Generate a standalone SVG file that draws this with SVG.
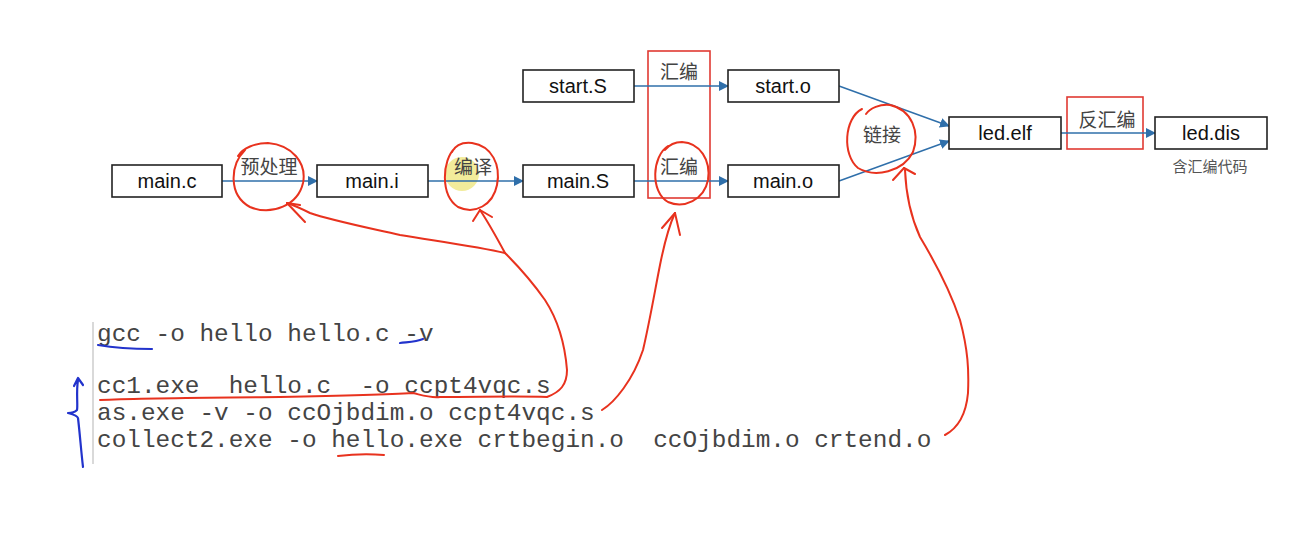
<svg xmlns="http://www.w3.org/2000/svg" width="1306" height="556" viewBox="0 0 1306 556">
<style>
.box rect{fill:#fff;stroke:#222;stroke-width:1.6}
.box text{font-family:"Liberation Sans",Arial,sans-serif;font-size:20px;fill:#111;text-anchor:middle}
.lbl{font-family:"Liberation Sans","Noto Sans CJK SC",sans-serif;font-size:19px;fill:#444;text-anchor:middle}
.conn line{stroke:#2F6FAA;stroke-width:1.6;marker-end:url(#ah)}
.code{font-family:"Liberation Mono","Courier New",monospace;font-size:24.4px;fill:#444;white-space:pre}
.red{fill:none;stroke:#E8321E;stroke-width:2;stroke-linecap:round;stroke-linejoin:round}
.blue{fill:none;stroke:#2233CC;stroke-width:2.2;stroke-linecap:round;stroke-linejoin:round}
.frame{fill:none;stroke:#E03A32;stroke-width:1.6}
</style>
<defs>
<marker id="ah" markerWidth="10" markerHeight="10" refX="9" refY="5" orient="auto" markerUnits="userSpaceOnUse">
<path d="M0,0 L10,5 L0,10 z" fill="#2F6FAA"/>
</marker>
</defs>
<rect width="1306" height="556" fill="#fff"/>

<!-- highlight -->
<circle cx="462" cy="174" r="17" fill="#EDE57A" opacity="0.75"/>

<!-- frames -->
<rect class="frame" x="648" y="51" width="62" height="147"/>
<rect class="frame" x="1067" y="97" width="76" height="52"/>

<g class="conn" id="connectors">
<line x1="222" y1="181" x2="317" y2="181"/>
<line x1="428" y1="181" x2="523" y2="181"/>
<line x1="634" y1="181" x2="728" y2="181"/>
<line x1="634" y1="86" x2="728" y2="86"/>
<line x1="839" y1="86" x2="949" y2="126"/>
<line x1="839" y1="181" x2="949" y2="141"/>
<line x1="1061" y1="133" x2="1155" y2="133"/>
</g>

<g class="box" id="main_c"><rect x="112" y="165" width="110" height="32"/><text x="167" y="188">main.c</text></g>
<g class="box" id="main_i"><rect x="317" y="165" width="111" height="32"/><text x="372" y="188">main.i</text></g>
<g class="box" id="main_S"><rect x="523" y="165" width="111" height="32"/><text x="578" y="188">main.S</text></g>
<g class="box" id="start_S"><rect x="523" y="70" width="111" height="32"/><text x="578" y="93">start.S</text></g>
<g class="box" id="start_o"><rect x="728" y="70" width="111" height="32"/><text x="783" y="93">start.o</text></g>
<g class="box" id="main_o"><rect x="728" y="165" width="111" height="32"/><text x="783" y="188">main.o</text></g>
<g class="box" id="led_elf"><rect x="949" y="117" width="112" height="32"/><text x="1005" y="140">led.elf</text></g>
<g class="box" id="led_dis"><rect x="1155" y="117" width="112" height="32"/><text x="1211" y="140">led.dis</text></g>

<g id="labels">
<text class="lbl" x="269" y="174">预处理</text>
<text class="lbl" x="473" y="174">编译</text>
<text class="lbl" x="679" y="79">汇编</text>
<text class="lbl" x="679" y="174">汇编</text>
<text class="lbl" x="882" y="142">链接</text>
<text class="lbl" x="1107" y="127">反汇编</text>
<text class="lbl" x="1210" y="172" style="font-size:15px;fill:#555">含汇编代码</text>
</g>

<!-- code block -->
<line x1="93" y1="322" x2="93" y2="464" stroke="#ccc" stroke-width="1.5"/>
<g id="code">
<text class="code" x="97" y="341">gcc -o hello hello.c -v</text>
<text class="code" x="97" y="393">cc1.exe  hello.c  -o ccpt4vqc.s</text>
<text class="code" x="97" y="420">as.exe -v -o ccOjbdim.o ccpt4vqc.s</text>
<text class="code" x="97" y="447">collect2.exe -o hello.exe crtbegin.o  ccOjbdim.o crtend.o</text>
</g>

<!-- red annotations -->
<g id="annotations">
<path class="red" d="M245,150 C230,165 228,195 250,207 C272,216 298,205 303,183 C307,163 292,145 268,143 C255,143 243,148 238,156"/>
<path class="red" d="M455,148 C442,160 440,195 458,207 C475,215 493,205 497,185 C501,165 492,146 472,143 C462,142 455,146 452,152"/>
<path class="red" d="M668,146 C652,156 650,192 668,202 C684,209 704,200 708,180 C711,160 700,143 682,142 C675,142 669,145 665,150"/>
<path class="red" d="M862,109 C844,118 842,155 858,168 C875,178 903,172 913,152 C920,132 912,110 890,105 C880,104 870,108 866,114"/>
<path class="red" d="M100,400 C140,398 180,398 280,397 C330,396 380,395 413,393 C425,396 430,398 440,397 C480,397 520,396 547,397 C560,392 567,385 567,370 C565,345 558,320 545,300 C533,283 520,268 505,253 C480,247 450,243 400,235 C360,226 330,220 310,213 C300,208 293,205 287,203"/>
<path class="red" d="M287,203 L305,222"/>
<path class="red" d="M287,203 L300,205"/>
<path class="red" d="M505,253 C498,240 488,222 480,210"/>
<path class="red" d="M480,210 L473,221"/>
<path class="red" d="M480,210 L492,217"/>
<path class="red" d="M602,410 C615,402 633,380 643,350 C650,320 655,290 660,265 C664,245 668,228 675,213"/>
<path class="red" d="M675,213 L662,228"/>
<path class="red" d="M675,213 L680,235"/>
<path class="red" d="M945,435 C958,428 966,415 968,393 C969,370 968,350 960,320 C950,290 935,262 920,237 C910,215 906,195 905,170"/>
<path class="red" d="M904,168 L893,180"/>
<path class="red" d="M904,168 L915,174"/>
<path class="red" d="M338,456 C355,454 370,454 384,455"/>
<path class="blue" d="M98,345 C115,348 135,349 152,349"/>
<path class="blue" d="M400,343 C408,342 416,342 423,339"/>
<path class="blue" d="M74,386 L78,378 L83,385 M78,380 C76,392 78,405 77,410 C75,412 71,413 68,413 C72,414 77,415 78,418 C80,435 81,450 83,467"/>
</g>
</svg>
